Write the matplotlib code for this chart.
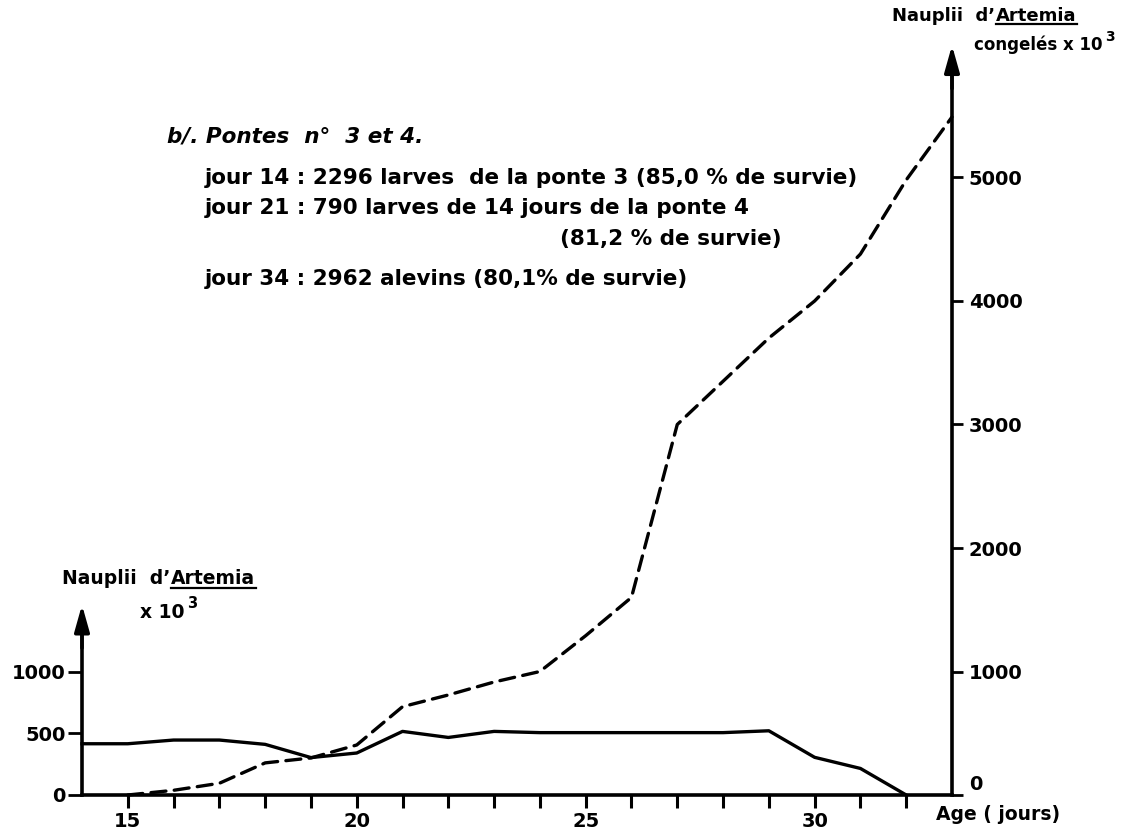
import matplotlib
matplotlib.use("Agg")
import matplotlib.pyplot as plt
from matplotlib.lines import Line2D

# ---- data ----
days_solid = [14, 15, 16, 17, 18, 19, 20, 21, 22, 23, 24, 25, 26, 27, 28, 29, 30, 31, 32]
nauplii = [415, 415, 445, 445, 410, 303, 340, 515, 466, 515, 505, 505, 505, 505, 505, 520, 305, 215, 0]

days_dash = [15, 16, 17, 18, 19, 20, 21, 22, 23, 24, 25, 26, 27, 28, 29, 30, 31, 32, 33]
congeles = [0, 38, 95, 260, 300, 405, 715, 810, 915, 1000, 1290, 1600, 3000, 3350, 3700, 4000, 4380, 4980, 5490]

x_ticks = list(range(15, 33))
x_ticklabels = ["15", "20", "25", "30"]
left_ticks = [0, 500, 1000]
right_ticks = [0, 1000, 2000, 3000, 4000, 5000]

W, H = 1144, 832
FONT = "DejaVu Sans"
plt.rcParams['font.family'] = [FONT]

fig = plt.figure(figsize=(W / 100, H / 100), dpi=100)

px_per_unit = 0.1235
ymax = 6300
ax_left_px, ax_right_px, ax_bottom_px = 82, 952, 795
ax_h = ymax * px_per_unit
ax = fig.add_axes([ax_left_px / W, (H - ax_bottom_px) / H,
                   (ax_right_px - ax_left_px) / W, ax_h / H])
ax.set_xlim(14, 33)
ax.set_ylim(0, ymax)

lw = 2.4
ax.plot(days_solid, nauplii, color="black", lw=lw, solid_joinstyle="round", clip_on=False)
ax.plot(days_dash, congeles, color="black", lw=lw, linestyle=(0, (4.5, 2.5)),
        dash_capstyle="round", clip_on=False)

ax.spines["top"].set_visible(False)
left_tip = 1540
right_tip = 6070
ax.spines["left"].set_bounds(0, left_tip - 150)
ax.spines["right"].set_bounds(0, right_tip - 150)
for s in ["left", "right", "bottom"]:
    ax.spines[s].set_linewidth(2.6)

# arrowheads
for xpos, ytip in [(14, left_tip), (33, right_tip)]:
    ax.annotate("", xy=(xpos, ytip), xytext=(xpos, ytip - 350),
                arrowprops=dict(arrowstyle="-|>,head_length=1.6,head_width=0.45",
                                lw=2.6, color="black", shrinkA=0, shrinkB=0),
                annotation_clip=False)

ax.set_xticks(x_ticks)
ax.set_xticklabels([str(d) if str(d) in x_ticklabels else "" for d in x_ticks])
ax.tick_params(axis="x", direction="out", length=9, width=2.2, pad=3,
               labelsize=14)
ax.set_yticks(left_ticks)
ax.set_yticklabels([str(v) for v in left_ticks])
ax.tick_params(axis="y", direction="out", length=10, width=2.0, pad=2, labelsize=14)
for lab in ax.get_xticklabels() + ax.get_yticklabels():
    lab.set_fontweight("bold")

ax2 = ax.twinx()
ax2.set_ylim(0, ymax)
for s in ["top", "left", "bottom", "right"]:
    ax2.spines[s].set_visible(False)
ax2.set_yticks(right_ticks)
# the "0" of the right axis sits a little above the baseline (drawn below)
ax2.set_yticklabels(["" if v == 0 else str(v) for v in right_ticks])
ax2.tick_params(axis="y", direction="out", length=8, width=2.0, pad=4, labelsize=14)
for lab in ax2.get_yticklabels():
    lab.set_fontweight("bold")


def ftext(x, y, s, **kw):
    kw.setdefault("fontsize", 14)
    kw.setdefault("fontweight", "bold")
    kw.setdefault("va", "center")
    return fig.text(x / W, 1 - y / H, s, **kw)


fig.canvas.draw()
renderer = fig.canvas.get_renderer()


def underlined_label(x, y, prefix, word, size=14):
    t1 = ftext(x, y, prefix, fontsize=size)
    bb = t1.get_window_extent(renderer)
    x2 = bb.x1 + 1
    t2 = fig.text(x2 / W, 1 - y / H, word, fontsize=size, fontweight="bold", va="center")
    bb2 = t2.get_window_extent(renderer)
    yline = (bb2.y0 + 1) / H
    fig.add_artist(Line2D([bb2.x0 / W, bb2.x1 / W], [yline, yline],
                          color="black", lw=1.6, transform=fig.transFigure))


def with_superscript(x, y, s, size, sup, sup_size, dy):
    t = ftext(x, y, s, fontsize=size)
    bb = t.get_window_extent(renderer)
    xs = bb.x1 + 3
    ftext(xs, y - dy, sup, fontsize=sup_size, va="center")


# left axis label
underlined_label(62, 579, "Nauplii  d\u2019", "Artemia", size=13.5)
with_superscript(140, 612, "x 10", 13.5, "3", 10.5, 9)

# right axis label
underlined_label(892, 16, "Nauplii  d\u2019", "Artemia", size=13)
with_superscript(974, 45, "congel\u00e9s x 10", 12, "3", 10, 8)

# right-axis zero and x axis label
ftext(969, 784, str(right_ticks[0]), fontsize=14)
ftext(936, 814, "Age ( jours)", fontsize=13.5)

# annotation block
TS = 15.5
ftext(167, 136, "b/. Pontes  n\u00b0  3 et 4.", fontstyle="italic", fontsize=TS)
ftext(205, 178, "jour 14 : 2296 larves  de la ponte 3 (85,0 % de survie)", fontsize=TS)
ftext(205, 208, "jour 21 : 790 larves de 14 jours de la ponte 4", fontsize=TS)
ftext(560, 239, "(81,2 % de survie)", fontsize=TS)
ftext(205, 279, "jour 34 : 2962 alevins (80,1% de survie)", fontsize=TS)

fig.savefig("out.png", dpi=100)
